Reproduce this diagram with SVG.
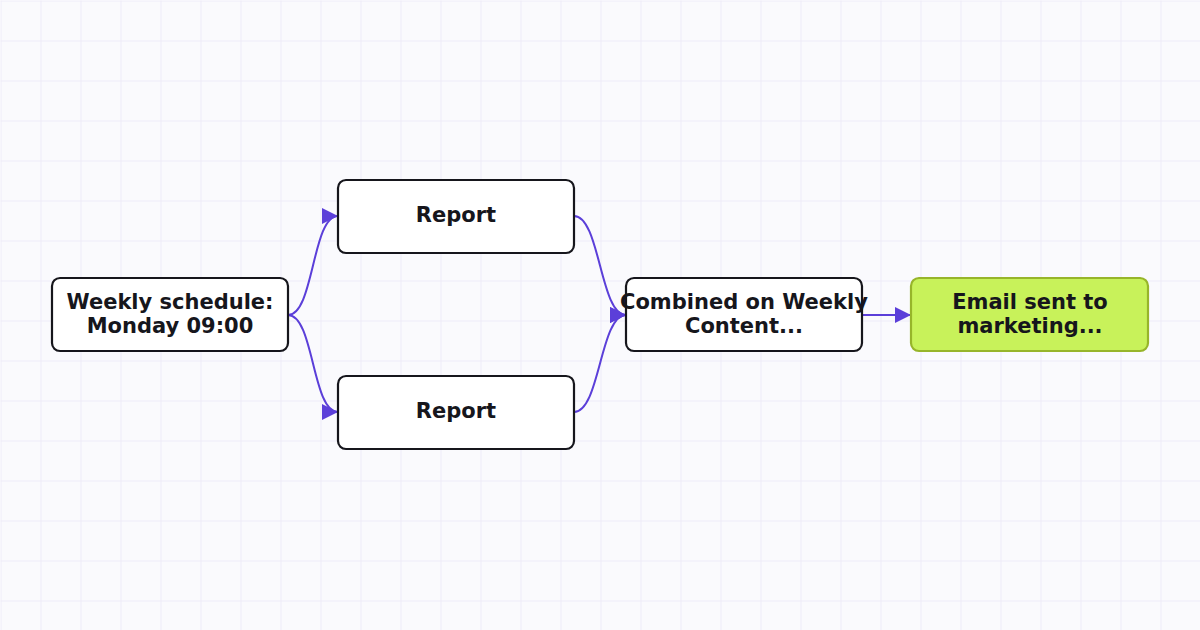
<svg xmlns="http://www.w3.org/2000/svg" width="1200" height="630" viewBox="0 0 1200 630">
  <defs>
    <pattern id="grid" width="40" height="40" patternUnits="userSpaceOnUse">
      <path d="M40 0 L0 0 L0 40" fill="none" stroke="#EBE8F7" stroke-width="1.5"/>
    </pattern>
    <marker id="arrow" viewBox="0 0 10 10" refX="10" refY="5" markerWidth="16" markerHeight="16" markerUnits="userSpaceOnUse" orient="auto">
      <path d="M0 0 L10 5 L0 10 Z" fill="#5B3FD9"/>
    </marker>
  </defs>
  <style>
    .node rect { fill: #ffffff; stroke: #16161c; stroke-width: 2.2; }
    .node.green rect { fill: #C8F25A; stroke: #97B52A; }
    .node text { font-family: "DejaVu Sans", "Liberation Sans", sans-serif; font-weight: 700; font-size: 21px; fill: #16161c; text-anchor: middle; }
    .edges path { fill: none; stroke: #5B3FD9; stroke-width: 2; marker-end: url(#arrow); }
  </style>
  <rect width="1200" height="630" fill="#FAFAFD"/>
  <rect width="1200" height="630" fill="url(#grid)" transform="translate(0.5 0.5)"/>
  <g class="edges">
    <path d="M288 315 C314 315 312 216 338 216"/>
    <path d="M288 315 C314 315 312 412 338 412"/>
    <path d="M574 216 C600 216 600 315 626 315"/>
    <path d="M574 412 C600 412 600 315 626 315"/>
    <path d="M862 315 L911 315"/>
  </g>
  <g id="weekly" class="node">
    <rect x="52" y="278" width="236" height="73" rx="8"/>
    <text x="170" y="309">Weekly schedule:</text>
    <text x="170" y="333">Monday 09:00</text>
  </g>
  <g id="report1" class="node">
    <rect x="338" y="180" width="236" height="73" rx="8"/>
    <text x="456" y="222">Report</text>
  </g>
  <g id="report2" class="node">
    <rect x="338" y="376" width="236" height="73" rx="8"/>
    <text x="456" y="418">Report</text>
  </g>
  <g id="combined" class="node">
    <rect x="626" y="278" width="236" height="73" rx="8"/>
    <text x="744" y="309">Combined on Weekly</text>
    <text x="744" y="333">Content...</text>
  </g>
  <g id="email" class="node green">
    <rect x="911" y="278" width="237" height="73" rx="8"/>
    <text x="1030" y="309">Email sent to</text>
    <text x="1030" y="333">marketing...</text>
  </g>
</svg>
